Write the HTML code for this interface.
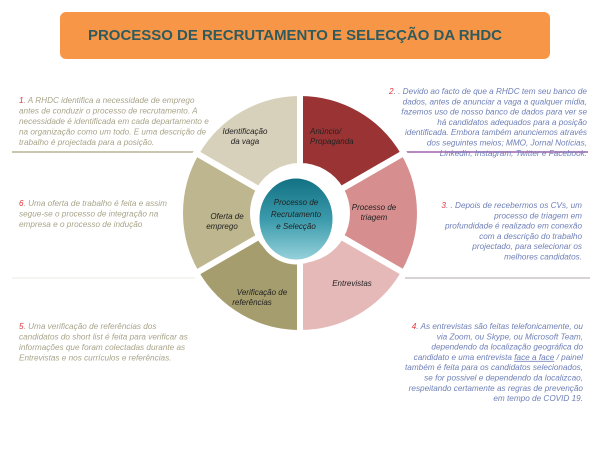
<!DOCTYPE html>
<html><head><meta charset="utf-8"><style>
html,body{margin:0;padding:0;background:#fff;}
svg{display:block;font-family:"Liberation Sans",sans-serif;}
.t{font-size:8.2px;font-style:italic;}
.g{fill:#a8a48a;}
.b{fill:#6f80b8;}
.r{fill:#e0353a;}
.l{font-size:8px;font-style:italic;fill:#222;}
</style></head><body>
<svg width="600" height="450" viewBox="0 0 600 450" xmlns="http://www.w3.org/2000/svg">
<defs>
<linearGradient id="tg" x1="0" y1="0" x2="0" y2="1">
<stop offset="0" stop-color="#0f6f80"/><stop offset="0.5" stop-color="#3a9aab"/><stop offset="1" stop-color="#9ad4dd"/>
</linearGradient>
</defs>
<rect x="60" y="12" width="490" height="47" rx="6" fill="#f79646"/>
<text x="88" y="40" font-size="15" font-weight="bold" fill="#2f5b5e" textLength="414" lengthAdjust="spacingAndGlyphs">PROCESSO DE RECRUTAMENTO E SELECÇÃO DA RHDC</text>

<line x1="12" y1="152" x2="205" y2="152" stroke="#c9c6b0" stroke-width="2"/>
<line x1="395" y1="152" x2="588" y2="152" stroke="#b888c0" stroke-width="2"/>
<line x1="405" y1="278" x2="590" y2="278" stroke="#d8d4d4" stroke-width="2"/>
<line x1="12" y1="278" x2="195" y2="278" stroke="#f2f1ec" stroke-width="1.5"/>

<g stroke="#fff" stroke-width="6">
<path d="M300 93 A120 120 0 0 1 403.9 153 L340.7 189.5 A47 47 0 0 0 300 166 Z" fill="#9a3434"/>
<path d="M403.9 153 A120 120 0 0 1 403.9 273 L340.7 236.5 A47 47 0 0 0 340.7 189.5 Z" fill="#d68e8e"/>
<path d="M403.9 273 A120 120 0 0 1 300 333 L300 260 A47 47 0 0 0 340.7 236.5 Z" fill="#e6b9b9"/>
<path d="M300 333 A120 120 0 0 1 196.1 273 L259.3 236.5 A47 47 0 0 0 300 260 Z" fill="#a59d6d"/>
<path d="M196.1 273 A120 120 0 0 1 196.1 153 L259.3 189.5 A47 47 0 0 0 259.3 236.5 Z" fill="#bdb68e"/>
<path d="M196.1 153 A120 120 0 0 1 300 93 L300 166 A47 47 0 0 0 259.3 189.5 Z" fill="#d7d1bb"/>
</g>
<ellipse cx="296" cy="219" rx="39" ry="43" fill="url(#tg)" stroke="#fff" stroke-width="5"/>
<text class="l" text-anchor="middle" font-size="9"><tspan x="296" y="205">Processo de</tspan><tspan x="296" y="217">Recrutamento</tspan><tspan x="296" y="229">e Selecção</tspan></text>

<text class="l" text-anchor="middle"><tspan x="245" y="134">Identificação</tspan><tspan x="245" y="144">da vaga</tspan></text>
<text class="l"><tspan x="310" y="134">Anúncio/</tspan><tspan x="310" y="144">Propaganda</tspan></text>
<text class="l" text-anchor="middle"><tspan x="374" y="210">Processo de</tspan><tspan x="374" y="220">triagem</tspan></text>
<text class="l" text-anchor="middle"><tspan x="352" y="286">Entrevistas</tspan></text>
<text class="l" text-anchor="middle"><tspan x="262" y="295">Verificação de</tspan><tspan x="252" y="305">referências</tspan></text>
<text class="l" text-anchor="middle"><tspan x="227" y="219">Oferta de</tspan><tspan x="222" y="229">emprego</tspan></text>

<text class="t g"><tspan x="19" y="103"><tspan class="r">1</tspan>. A RHDC identifica a necessidade de emprego</tspan><tspan x="19" y="113.5">antes de conduzir o processo de recrutamento. A</tspan><tspan x="19" y="124">necessidade é identificada em cada departamento e</tspan><tspan x="19" y="134.5">na organização  como um todo. E uma descrição de</tspan><tspan x="19" y="145">trabalho é projectada para a posição.</tspan></text>
<text class="t g"><tspan x="19" y="206"><tspan class="r">6</tspan>. Uma oferta de trabalho é feita e assim</tspan><tspan x="19" y="216.5">segue-se o processo de integração na</tspan><tspan x="19" y="227">empresa e o processo de indução</tspan></text>
<text class="t g"><tspan x="19" y="329"><tspan class="r">5</tspan>. Uma verificação de referências dos</tspan><tspan x="19" y="339.5">candidatos do short list é feita para verificar as</tspan><tspan x="19" y="350">informações que foram colectadas durante as</tspan><tspan x="19" y="360.5">Entrevistas e nos currículos e referências.</tspan></text>

<text class="t b" text-anchor="end"><tspan x="587" y="94"><tspan class="r">2</tspan>. . Devido ao facto de que a RHDC tem seu banco de</tspan><tspan x="587" y="104.3">dados, antes de anunciar a vaga a qualquer mídia,</tspan><tspan x="587" y="114.6">fazemos uso de nosso banco de dados para ver se</tspan><tspan x="587" y="124.9">há candidatos adequados  para a posição</tspan><tspan x="587" y="135.2">identificada. Embora também anunciemos através</tspan><tspan x="587" y="145.5">dos seguintes meios; MMO, Jornal Notícias,</tspan><tspan x="587" y="155.8">Linkedin, Instagram, Twitter e Facebook.</tspan></text>
<text class="t b" text-anchor="end"><tspan x="582" y="208"><tspan class="r">3</tspan>. . Depois de recebermos os CVs, um</tspan><tspan x="582" y="218.3">processo de triagem em</tspan><tspan x="582" y="228.6">profundidade é realizado em conexão</tspan><tspan x="582" y="238.9">com a descrição do trabalho</tspan><tspan x="582" y="249.2">projectado, para selecionar os</tspan><tspan x="582" y="259.5">melhores candidatos.</tspan></text>
<text class="t b" text-anchor="end"><tspan x="583" y="329"><tspan class="r">4</tspan>. As entrevistas são feitas telefonicamente, ou</tspan><tspan x="583" y="339.3">via Zoom, ou Skype, ou Microsoft Team,</tspan><tspan x="583" y="349.6">dependendo da localização geográfica do</tspan><tspan x="583" y="359.9">candidato e uma entrevista <tspan text-decoration="underline">face a face</tspan> / painel</tspan><tspan x="583" y="370.2">também é feita para os candidatos selecionados,</tspan><tspan x="583" y="380.5">se for possivel e dependendo da localizcao,</tspan><tspan x="583" y="390.8">respeitando certamente as regras de prevenção</tspan><tspan x="583" y="401.1">em tempo de COVID 19.</tspan></text>
</svg>
</body></html>
